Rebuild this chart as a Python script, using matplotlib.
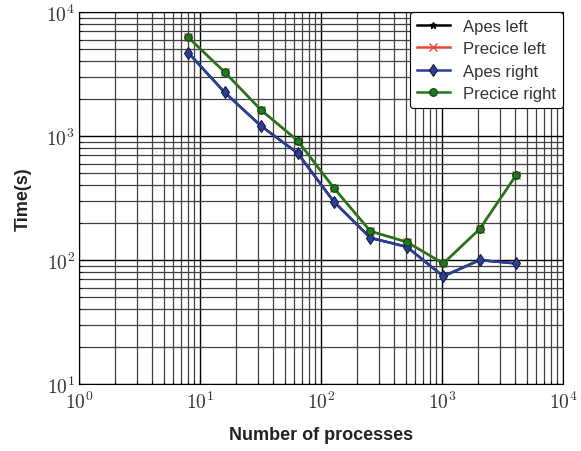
import math
import matplotlib
matplotlib.use("Agg")
from matplotlib import pyplot as plt
from matplotlib.ticker import FuncFormatter

plt.rcParams["mathtext.fontset"] = "cm"
plt.rcParams["font.family"] = ["Liberation Sans", "DejaVu Sans"]

processes = [8, 16, 32, 64, 128, 256, 512, 1024, 2048, 4096]
apes_left = [4700, 2250, 1205, 730, 295, 151, 128, 74, 100, 94]
precice_left = [6250, 3280, 1620, 920, 381, 171, 140, 94, 178, 484]
apes_right = [4700, 2250, 1205, 730, 295, 151, 128, 74, 100, 94]
precice_right = [6250, 3280, 1620, 920, 381, 171, 140, 94, 178, 484]

fig = plt.figure(figsize=(5.81, 4.52), dpi=100)
ax = fig.add_axes([0.136, 0.148, 0.833, 0.823])

ax.plot(processes, apes_left, color="black", marker="*", markersize=5,
        linewidth=1.8, label="Apes left")
ax.plot(processes, precice_left, color="#e8453c", marker="x", markersize=6,
        linewidth=1.8, label="Precice left")
ax.plot(processes, apes_right, color="#2b3f9b", marker="d", markersize=6,
        markeredgecolor="#1a1a3a", markeredgewidth=0.8,
        linewidth=1.8, label="Apes right")
ax.plot(processes, precice_right, color="#1c7a1c", marker="o", markersize=5.5,
        markeredgecolor="#143814", markeredgewidth=0.8,
        linewidth=1.8, label="Precice right")

ax.set_xscale("log")
ax.set_yscale("log")
ax.set_xlim(1, 1e4)
ax.set_ylim(10, 1e4)

power_fmt = FuncFormatter(lambda v, pos: r"$10^{%d}$" % round(math.log10(v)))
ax.xaxis.set_major_formatter(power_fmt)
ax.yaxis.set_major_formatter(power_fmt)

ax.grid(True, which="major", color="black", linewidth=1.0)
ax.grid(True, which="minor", color="#404040", linewidth=0.9)
ax.set_axisbelow(True)
ax.tick_params(which="both", direction="in", labelsize=14, labelcolor="#333333")
ax.tick_params(axis="x", pad=5)
ax.tick_params(axis="y", pad=3)

ax.set_xlabel("Number of processes", fontsize=13, fontweight="bold", labelpad=10,
              color="#222222")
ax.set_ylabel("Time(s)", fontsize=13, fontweight="bold", labelpad=10,
              color="#222222")

leg = ax.legend(loc="upper right", fontsize=12, framealpha=1.0,
                edgecolor="black", borderaxespad=0.0, handlelength=2.0,
                labelspacing=0.45)
for txt in leg.get_texts():
    txt.set_color("#333333")
leg.get_frame().set_linewidth(0.8)

fig.savefig("out.png", dpi=100)
